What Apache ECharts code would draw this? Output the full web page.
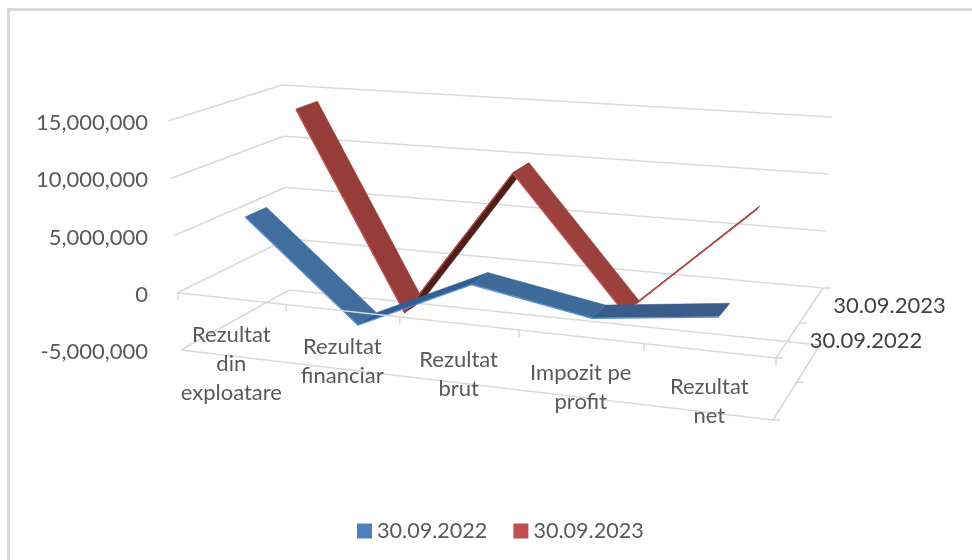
<!DOCTYPE html>
<html><head><meta charset="utf-8">
<style>html,body{margin:0;padding:0;background:#fff}#c{width:972px;height:560px}</style>
<script src="https://cdn.jsdelivr.net/npm/echarts@6/dist/echarts.min.js"></script>
</head><body><div id="c"></div>
<script>
var categories = ['Rezultat\ndin\nexploatare','Rezultat\nfinanciar','Rezultat\nbrut','Impozit pe\nprofit','Rezultat\nnet'];
var series2022 = [6400000,-2060000,2470000,680000,1890000];
var series2023 = [14200000,-3750000,9800000,-1800000,7500000];
var seriesNames = ['30.09.2022','30.09.2023'];
var valueTicks = [-5000000,0,5000000,10000000,15000000];

var FONT = 'Lato';
var TEXT = '#595959', GRID = '#d9d9d9';
// Box corners of the 3D view: [front-left, front-right, back-left, back-right], each bottom/top
var FB=[[181,350],[773,420],[289,290],[820,345]];
var FT=[[168,121],[785,172],[282,85],[832,117]];
var PERSP=1.13;
function warp(u){return u/(u+(1-u)*PERSP);}
function lerp(a,b,s){return [a[0]+(b[0]-a[0])*s,a[1]+(b[1]-a[1])*s];}
function project(u,d,t){
  var f=warp(u);
  var bot=lerp(lerp(FB[0],FB[1],f),lerp(FB[2],FB[3],f),d);
  var top=lerp(lerp(FT[0],FT[1],f),lerp(FT[2],FT[3],f),d);
  return lerp(bot,top,t);
}
function norm(params,api,i,v){
  var p=api.coord([i,v]),g=params.coordSys;
  return {u:(p[0]-g.x)/g.width,t:(g.y+g.height-p[1])/g.height};
}
function seg(a,b,c){return {type:'line',shape:{x1:a[0],y1:a[1],x2:b[0],y2:b[1]},style:{stroke:c||GRID,lineWidth:1.6},silent:true};}

// bands: per-segment [near depth, far depth] of the ribbon; fills: per-segment shade
function ribbon(bands,fills,edge,values){
  return function(params,api){
    var i=api.value(0);
    if(i===values.length-1) return {type:'group',children:[]};
    var a=norm(params,api,i,values[i]),b=norm(params,api,i+1,values[i+1]);
    var n=bands[i][0],m=bands[i][1];
    var af=project(a.u,n,a.t),ab=project(a.u,m,a.t),bf=project(b.u,n,b.t),bb=project(b.u,m,b.t);
    return {type:'group',children:[
      {type:'polygon',shape:{points:[af,bf,bb,ab]},style:{fill:fills[i],stroke:fills[i],lineWidth:0.5}},
      {type:'line',shape:{x1:af[0],y1:af[1]+0.5,x2:bf[0],y2:bf[1]+0.5},style:{stroke:edge,lineWidth:1.2}}
    ]};
  };
}
var option={
  animation:false,
  backgroundColor:'#fff',
  graphic:[{type:'rect',silent:true,z:-1,shape:{x:8.5,y:9.5,width:1000,height:600},style:{fill:'#fff',stroke:'#d9d9d9',lineWidth:3}}],
  legend:{data:seriesNames,left:357,top:520,padding:0,itemWidth:15,itemHeight:15,itemGap:26,icon:'rect',
    textStyle:{fontFamily:FONT,fontSize:21.6,color:TEXT}},
  grid:{left:155,right:197,top:123,bottom:208,containLabel:false},
  xAxis:{type:'category',data:categories,axisLine:{show:false},axisTick:{show:false},axisLabel:{show:false},splitLine:{show:false}},
  yAxis:{type:'value',min:-5000000,max:15000000,interval:5000000,axisLine:{show:false},axisTick:{show:false},splitLine:{show:false},
    axisLabel:{margin:7,fontFamily:FONT,fontSize:22,color:TEXT,formatter:function(v){return v.toLocaleString('en-US');}}},
  series:[
   {type:'custom',name:'walls',silent:true,z:1,data:valueTicks.map(function(v){return [0,v];}),
    renderItem:function(params,api){
      var n=norm(params,api,0,api.value(1));
      var fl=project(0,0,n.t),bl=project(0,1,n.t),br=project(1,1,n.t);
      return {type:'group',children:[seg(fl,bl),seg(bl,br)]};
    }},
   {type:'custom',name:seriesNames[1],z:2,itemStyle:{color:'#c0504d'},data:categories.map(function(c,i){return [i,series2023[i]];}),
    renderItem:ribbon([[.67,.87],[.67,.87],[.67,.87],[.825,.87]],['#963d3a','#4f1f1c','#9c403d','#5a2220'],'#c0504d',series2023)},
   {type:'custom',name:seriesNames[0],z:3,itemStyle:{color:'#4f81bd'},data:categories.map(function(c,i){return [i,series2022[i]];}),
    renderItem:ribbon([[.165,.365],[.165,.365],[.165,.365],[.165,.365]],['#416d9f','#2f5f94','#3f6b9b','#3a5c89'],'#5b93d3',series2022)},
   {type:'custom',name:'floor',silent:true,z:4,data:[[0,-5000000,0],[0,0,1]],
    renderItem:function(params,api){
      var n=norm(params,api,0,api.value(1)),isZero=api.value(2)===1,kids=[];
      var fl=project(0,0,n.t),fr=project(1,0,n.t),br=project(1,1,n.t);
      kids.push(seg(fl,fr),seg(fr,br));
      [0,.5,1].forEach(function(d){var p=project(1,d,n.t);kids.push(seg(p,[p[0]+7,p[1]]));});
      if(isZero){categories.concat(['']).forEach(function(c,i){var p=project(i/categories.length,0,n.t);kids.push(seg(p,[p[0],p[1]+7]));});}
      return {type:'group',children:kids};
    }},
   {type:'custom',name:'catLabels',silent:true,z:5,data:categories.map(function(c,i){return [i,0];}),
    renderItem:function(params,api){
      var i=api.value(0),n=norm(params,api,i,api.value(1));
      var p=project(n.u,0,n.t);
      return {type:'text',style:{text:categories[i],x:p[0],y:p[1]+22,align:'center',verticalAlign:'top',fontFamily:FONT,fontSize:22,lineHeight:29,fill:TEXT}};
    }},
   {type:'custom',name:'depthLabels',silent:true,z:5,data:[[0,0,.25,0],[0,0,.75,1]],
    renderItem:function(params,api){
      var n=norm(params,api,0,api.value(1));
      var p=project(1,api.value(2),n.t);
      return {type:'text',style:{text:seriesNames[api.value(3)],x:p[0]+22,y:p[1],align:'left',verticalAlign:'middle',fontFamily:FONT,fontSize:22,fill:'#404040'}};
    }}
  ]
};
var chart=echarts.init(document.getElementById('c'),null,{renderer:'canvas'});
chart.setOption(option);
</script></body></html>
